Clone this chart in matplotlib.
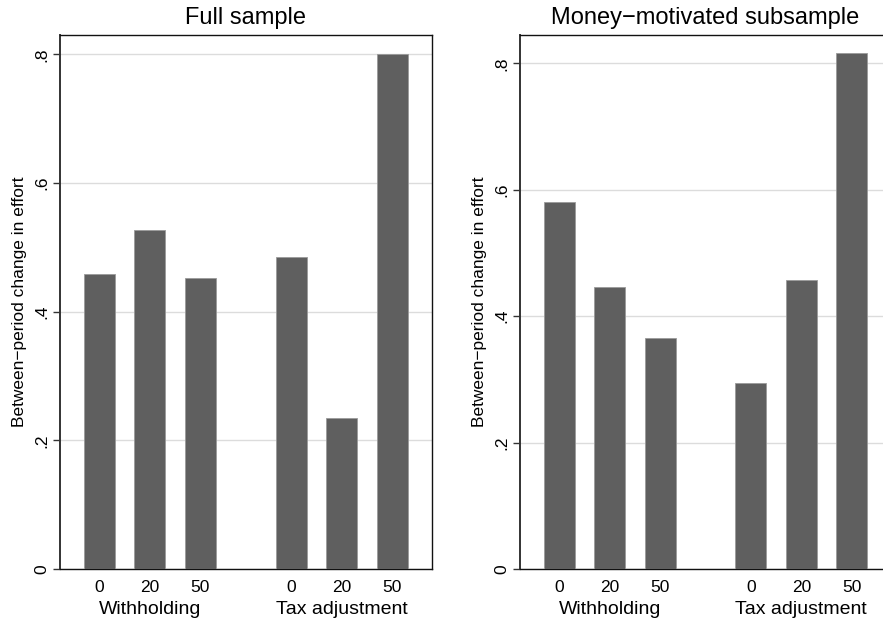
import numpy as np
import matplotlib.pyplot as plt

plt.rcParams['font.family'] = ['Liberation Sans', 'DejaVu Sans']

# bar values
rates = ['0', '20', '50']
groups = ['Withholding', 'Tax adjustment']
full_sample = [0.458, 0.527, 0.452, 0.485, 0.235, 0.800]
money_sample = [0.580, 0.446, 0.365, 0.294, 0.457, 0.816]
titles = ['Full sample', 'Money\u2212motivated subsample']
ylabel = 'Between\u2212period change in effort'
yticks = [0, 0.2, 0.4, 0.6, 0.8]
yticklabels = ['0', '.2', '.4', '.6', '.8']

W, H = 883, 625
fig = plt.figure(figsize=(W / 100, H / 100), dpi=100)

# axes boxes in pixels: left, top, right, bottom
boxes = [(60, 35, 431.5, 569), (520, 35, 891, 569)]
ytops = [0.830, 0.845]

pos = np.array([0, 1, 2, 3.8, 4.8, 5.8])
group_centers = [1, 4.8]

for k, vals in enumerate([full_sample, money_sample]):
    l, t, r, b = boxes[k]
    ax = fig.add_axes([l / W, 1 - b / H, (r - l) / W, (b - t) / H])
    ax.bar(pos, vals, width=0.615, color='#5f5f5f', edgecolor='#9a9a9a',
           linewidth=0.6, zorder=3)
    ax.set_xlim(-0.78, 6.58)
    ax.set_ylim(0, ytops[k])
    ax.set_yticks(yticks)
    ax.set_yticklabels(yticklabels, rotation=90, va='center', fontsize=12.5)
    ax.yaxis.grid(True, color='#dcdcdc', linewidth=1, zorder=0)
    ax.set_xticks(pos)
    ax.set_xticklabels(rates * 2, fontsize=12.5)
    ax.tick_params(axis='x', length=0, pad=8)
    ax.tick_params(axis='y', length=5, width=1, color='#333333', pad=3)
    ax.set_ylabel(ylabel, fontsize=12.5, labelpad=5)
    ax.set_title(titles[k], fontsize=17, pad=8)
    for g, c in zip(groups, group_centers):
        ax.text(c, -0.075, g, transform=ax.get_xaxis_transform(),
                ha='center', va='center', fontsize=14)
    for s in ['top', 'right', 'bottom']:
        ax.spines[s].set_color('#111111')
        ax.spines[s].set_linewidth(1)
    ax.spines['left'].set_color('#333333')
    ax.spines['left'].set_linewidth(1.4)

fig.savefig('out.png', dpi=100)
